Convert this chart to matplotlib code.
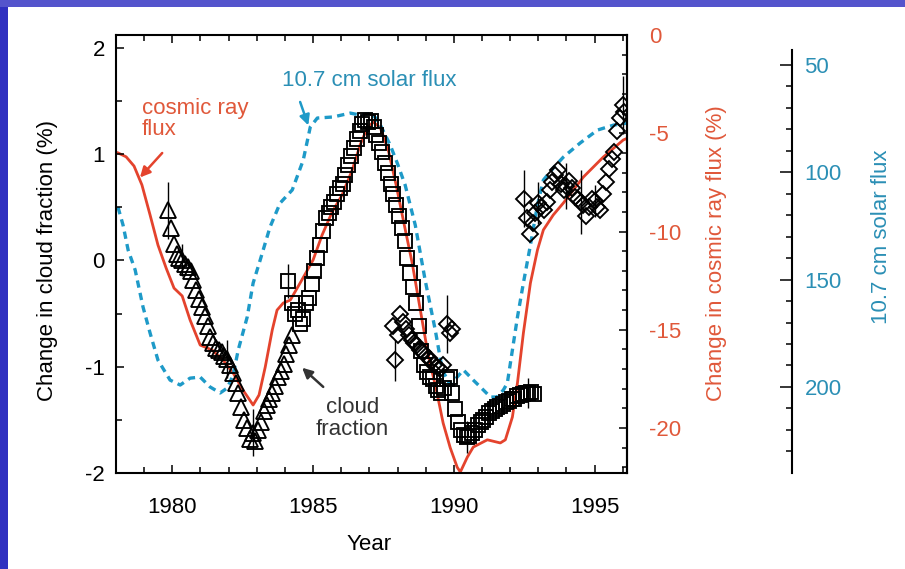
import numpy as np
import matplotlib
matplotlib.use("Agg")
import matplotlib.pyplot as plt
from matplotlib.patches import Rectangle
from matplotlib.ticker import MultipleLocator, FixedLocator

plt.rcParams['font.family'] = ['Liberation Sans', 'DejaVu Sans']
plt.rcParams['axes.unicode_minus'] = False

# cosmic ray flux (% change), red solid line
cr_year = [1978.07, 1978.36, 1978.64, 1978.92, 1979.21, 1979.49, 1979.78, 1980.06, 1980.35,
           1980.63, 1980.99, 1981.41, 1981.80, 1982.16, 1982.51, 1982.87, 1983.08, 1983.30,
           1983.55, 1983.72, 1983.94, 1984.19, 1984.54, 1985.00, 1985.32, 1985.68, 1986.03,
           1986.39, 1986.67, 1986.92, 1987.14, 1987.39, 1987.67, 1987.95, 1988.24, 1988.52,
           1988.81, 1989.09, 1989.38, 1989.62, 1989.87, 1990.12, 1990.23, 1990.48, 1990.69,
           1991.19, 1991.65, 1991.83, 1992.08, 1992.26, 1992.47, 1992.72, 1992.97, 1993.18,
           1993.53, 1993.89, 1994.60, 1995.31, 1996.02, 1996.27]
cr_val = [-6.0, -6.2, -6.67, -7.63, -9.16, -10.69, -11.86, -12.88, -13.28,
          -14.5, -15.78, -16.03, -16.54, -17.2, -18.07, -18.83, -18.32, -16.9,
          -15.01, -14.0, -13.64, -13.49, -12.62, -11.45, -10.18, -9.0, -8.14,
          -6.87, -5.6, -4.73, -4.43, -4.73, -5.85, -7.63, -9.67, -11.6,
          -14.0, -16.3, -18.07, -19.75, -21.0, -22.0, -22.24, -21.48, -20.97,
          -20.6, -20.76, -20.6, -19.44, -17.7, -15.17, -12.62, -10.94, -9.92,
          -9.16, -8.55, -7.23, -6.21, -5.34, -5.19]

# 10.7 cm solar flux, dashed line (inverted axis)
sf_year = [1978.07, 1978.25, 1978.43, 1978.68, 1978.96, 1979.21, 1979.49, 1979.92, 1980.28,
           1980.63, 1980.99, 1981.34, 1981.70, 1981.95, 1982.16, 1982.34, 1982.66, 1982.87,
           1983.12, 1983.47, 1983.83, 1984.26, 1984.65, 1984.90, 1985.15, 1985.71, 1986.32,
           1986.67, 1987.10, 1987.39, 1987.74, 1987.99, 1988.27, 1988.63, 1988.98, 1989.34,
           1989.59, 1989.87, 1990.34, 1990.69, 1990.94, 1991.30, 1991.54, 1991.76, 1991.90,
           1992.08, 1992.26, 1992.47, 1992.72, 1992.97, 1993.18, 1993.53, 1993.89, 1994.49,
           1995.10, 1995.67, 1996.17]
sf_val = [116.2, 124.6, 136.2, 145.5, 162.8, 174.9, 187.5, 196.8, 199.1,
          195.9, 195.4, 200.0, 202.8, 200.5, 194.5, 182.8, 167.4, 151.6,
          140.9, 125.5, 114.3, 108.2, 94.3, 78.9, 74.7, 74.2, 72.4,
          73.3, 72.4, 78.0, 87.3, 95.7, 105.9, 124.6, 150.2, 173.5,
          192.1, 199.1, 192.1, 196.8, 200.0, 204.7, 204.7, 201.4, 198.2,
          182.8, 167.4, 151.6, 133.9, 115.2, 103.6, 98.0, 92.9, 86.3,
          80.3, 78.0, 77.0]

# cloud fraction, triangles
tri_year = [1979.85, 1979.95, 1980.05, 1980.15, 1980.25, 1980.35, 1980.45, 1980.55, 1980.65,
            1980.75, 1980.85, 1980.95, 1981.05, 1981.15, 1981.25, 1981.35, 1981.45, 1981.55,
            1981.65, 1981.75, 1981.85, 1981.95, 1982.05, 1982.15, 1982.25, 1982.35, 1982.45,
            1982.55, 1982.65, 1982.75, 1982.85, 1982.95, 1983.05, 1983.15, 1983.25, 1983.35,
            1983.45, 1983.55, 1983.65, 1983.75, 1983.85, 1983.95, 1984.05, 1984.15, 1984.25]
tri_val = [0.47, 0.30, 0.15, 0.06, 0.02, 0.00, -0.03, -0.06, -0.10,
           -0.18, -0.28, -0.36, -0.44, -0.52, -0.62, -0.72, -0.78, -0.82,
           -0.84, -0.86, -0.90, -0.93, -0.98, -1.06, -1.15, -1.25, -1.38,
           -1.50, -1.58, -1.68, -1.62, -1.70, -1.60, -1.52, -1.42, -1.36,
           -1.30, -1.25, -1.18, -1.10, -1.04, -0.97, -0.88, -0.80, -0.70]

# cloud fraction, squares
sq_year = [1984.10, 1984.25, 1984.35, 1984.45, 1984.55, 1984.65, 1984.75, 1984.85, 1984.95,
           1985.05, 1985.15, 1985.25, 1985.35, 1985.45, 1985.55, 1985.65, 1985.75, 1985.85,
           1985.95, 1986.05, 1986.15, 1986.25, 1986.35, 1986.45, 1986.55, 1986.65, 1986.75,
           1986.85, 1986.95, 1987.05, 1987.15, 1987.25, 1987.35, 1987.45, 1987.55, 1987.65,
           1987.75, 1987.85, 1987.95, 1988.05, 1988.15, 1988.25, 1988.35, 1988.45, 1988.55,
           1988.65, 1988.75, 1988.85, 1988.95, 1989.05, 1989.15, 1989.25, 1989.35, 1989.45,
           1989.55, 1989.65, 1989.75, 1989.85, 1989.95, 1990.05, 1990.15, 1990.25, 1990.35,
           1990.45, 1990.55, 1990.65, 1990.75, 1990.85, 1990.95, 1991.05, 1991.15, 1991.25,
           1991.35, 1991.45, 1991.55, 1991.65, 1991.75, 1991.85, 1991.95, 1992.05, 1992.15,
           1992.25, 1992.35, 1992.45, 1992.55, 1992.65, 1992.75, 1992.85]
sq_val = [-0.19, -0.40, -0.50, -0.47, -0.60, -0.55, -0.40, -0.35, -0.22,
          -0.10, 0.02, 0.14, 0.28, 0.40, 0.45, 0.50, 0.55, 0.62,
          0.68, 0.72, 0.80, 0.90, 0.98, 1.06, 1.14, 1.22, 1.28,
          1.32, 1.30, 1.31, 1.25, 1.18, 1.10, 1.02, 0.92, 0.82,
          0.72, 0.62, 0.52, 0.42, 0.30, 0.18, 0.02, -0.12, -0.25,
          -0.40, -0.62, -0.85, -0.98, -1.05, -1.10, -1.12, -1.18, -1.22,
          -1.25, -1.20, -1.12, -1.10, -1.25, -1.40, -1.52, -1.60, -1.64,
          -1.66, -1.65, -1.62, -1.60, -1.55, -1.52, -1.50, -1.47, -1.44,
          -1.42, -1.40, -1.38, -1.37, -1.35, -1.33, -1.32, -1.30, -1.30,
          -1.28, -1.27, -1.26, -1.25, -1.25, -1.24, -1.26]

# cloud fraction, diamonds
dia_year = [1987.85, 1987.92, 1988.00, 1988.10, 1988.20, 1988.30, 1988.40, 1988.50, 1988.60,
            1988.70, 1988.80, 1988.90, 1989.00, 1989.10, 1989.20, 1989.30, 1989.40, 1989.50,
            1989.60, 1989.75, 1989.85, 1989.95,
            1992.50, 1992.60, 1992.70, 1992.80, 1992.90, 1993.00, 1993.10, 1993.20, 1993.30,
            1993.40, 1993.50, 1993.60, 1993.70, 1993.80, 1993.90, 1994.00, 1994.10, 1994.20,
            1994.30, 1994.40, 1994.50, 1994.60, 1994.70, 1994.80, 1994.90, 1995.00, 1995.10,
            1995.20, 1995.30, 1995.40, 1995.50, 1995.60, 1995.70, 1995.80, 1995.90, 1996.00,
            1996.05]
dia_val = [-0.62, -0.94, -0.70, -0.50, -0.58, -0.65, -0.70, -0.75, -0.78,
           -0.80, -0.84, -0.86, -0.90, -0.92, -0.95, -0.98, -1.00, -1.02,
           -0.98, -0.60, -0.68, -0.65,
           0.58, 0.40, 0.25, 0.35, 0.45, 0.54, 0.50, 0.47, 0.55,
           0.66, 0.74, 0.80, 0.85, 0.72, 0.66, 0.70, 0.75, 0.68,
           0.60, 0.58, 0.55, 0.52, 0.42, 0.50, 0.58, 0.56, 0.50,
           0.47, 0.62, 0.74, 0.86, 0.95, 1.02, 1.22, 1.34, 1.46,
           1.40]

# points that carry a visible error bar
eb_year = [1979.85, 1980.35, 1981.95, 1982.85, 1984.10, 1987.92, 1989.75, 1990.45,
           1992.65, 1992.50, 1993.00, 1994.00, 1994.50, 1995.00, 1996.00]
eb_val = [0.47, 0.00, -0.93, -1.62, -0.19, -0.94, -0.60, -1.66,
          -1.25, 0.58, 0.54, 0.70, 0.55, 0.56, 1.46]
eb_err = [0.27, 0.15, 0.18, 0.22, 0.16, 0.19, 0.27, 0.15,
          0.14, 0.27, 0.20, 0.22, 0.30, 0.15, 0.27]

# solar axis ticks (spine starts just above 50)
sol_major = [50, 100, 150, 200]
sol_minor = [60, 70, 80, 90, 110, 120, 130, 140, 160, 170, 180, 190, 210, 220, 230]

RED = '#e4432d'
RED_TXT = '#e0583a'
TEAL = '#1e9ac8'
TEAL_TXT = '#2b8fb5'
FS = 16

fig = plt.figure(figsize=(9.05, 5.69), dpi=100)
fig.patch.set_facecolor('white')
fig.add_artist(Rectangle((0, 0), 8 / 905, 1, transform=fig.transFigure,
                         facecolor='#3030c0', edgecolor='none', zorder=-10))
fig.add_artist(Rectangle((0, 1 - 7 / 569), 1, 7 / 569, transform=fig.transFigure,
                         facecolor='#5454cc', edgecolor='none', zorder=-10))

ax = fig.add_axes([0.1282, 0.1687, 0.5646, 0.7698])
ax_red = ax.twinx()
ax_sol = ax.twinx()
ax.set_zorder(3)
ax.patch.set_visible(False)

# red and solar lines on their own scales
ax_red.plot(cr_year, cr_val, color=RED, lw=2.0, solid_joinstyle='round')
ax_sol.plot(sf_year, sf_val, color=TEAL, lw=2.4, linestyle=(0, (2.2, 1.6)))

# cloud fraction markers
mk = dict(linestyle='none', markerfacecolor='none', markeredgecolor='black',
          markeredgewidth=1.35)
ax.errorbar(eb_year, eb_val, yerr=eb_err, fmt='none', ecolor='black',
            elinewidth=1.0, capsize=0)
ax.plot(tri_year, tri_val, marker='^', markersize=11, **mk)
ax.plot(sq_year, sq_val, marker='s', markersize=10, **mk)
ax.plot(dia_year, dia_val, marker='D', markersize=8, **mk)

# main axis
ax.set_xlim(1978.0, 1996.15)
ax.set_ylim(-2, 2.12)
ax.xaxis.set_major_locator(MultipleLocator(5))
ax.xaxis.set_minor_locator(MultipleLocator(1))
ax.yaxis.set_major_locator(MultipleLocator(1))
ax.yaxis.set_minor_locator(MultipleLocator(0.5))
ax.tick_params(which='both', direction='in', top=True, right=False, width=1.1,
               labelsize=FS)
ax.tick_params(which='major', length=5.5)
ax.tick_params(which='minor', length=4)
ax.tick_params(axis='x', pad=17)
ax.tick_params(axis='y', pad=8)
for s in ax.spines.values():
    s.set_linewidth(1.5)
ax.set_xlabel('Year', fontsize=FS, va='center')
ax.xaxis.set_label_coords(0.495, -0.164)
ax.set_ylabel('Change in cloud fraction (%)', fontsize=FS, va='center')
ax.yaxis.set_label_coords(-0.134, 0.486)

# red axis
ax_red.set_ylim(-22.29, 0)
ax_red.yaxis.set_major_locator(MultipleLocator(5))
ax_red.yaxis.set_minor_locator(MultipleLocator(1))
ax_red.tick_params(axis='y', which='both', direction='in', width=1.1,
                   labelsize=FS, labelcolor=RED_TXT, pad=16)
ax_red.tick_params(axis='y', which='major', length=6)
ax_red.tick_params(axis='y', which='minor', length=3.5)
for side in ['top', 'bottom', 'left']:
    ax_red.spines[side].set_visible(False)
ax_red.spines['right'].set_linewidth(1.5)
ax_red.set_ylabel('Change in cosmic ray flux (%)', fontsize=FS, color=RED_TXT, va='center')
ax_red.yaxis.set_label_coords(1.176, 0.502)

# solar flux axis
ax_sol.set_ylim(240.1, 36.0)
ax_sol.yaxis.set_major_locator(FixedLocator(sol_major))
ax_sol.yaxis.set_minor_locator(FixedLocator(sol_minor))
ax_sol.spines['right'].set_position(('axes', 1.3229))
ax_sol.spines['right'].set_bounds(43, 240.1)
ax_sol.spines['right'].set_linewidth(1.5)
for side in ['top', 'bottom', 'left']:
    ax_sol.spines[side].set_visible(False)
ax_sol.tick_params(axis='y', which='both', direction='in', width=1.1,
                   labelsize=FS, labelcolor=TEAL_TXT, pad=9)
ax_sol.tick_params(axis='y', which='major', length=8.5)
ax_sol.tick_params(axis='y', which='minor', length=4.3)
ax_sol.set_ylabel('10.7 cm solar flux', fontsize=FS, color=TEAL_TXT, va='center')
ax_sol.yaxis.set_label_coords(1.499, 0.539)

# annotations
ax.text(1978.92, 1.33, 'cosmic ray\nflux', color=RED_TXT, fontsize=FS,
        ha='left', va='center', linespacing=1.05)
ax.annotate('', xy=(1978.85, 0.78), xytext=(1979.64, 1.01),
            arrowprops=dict(arrowstyle='-|>', color=RED, lw=1.8, mutation_scale=15,
                            shrinkA=0, shrinkB=0))
ax.text(1983.9, 1.69, '10.7 cm solar flux', color=TEAL_TXT, fontsize=FS,
        ha='left', va='center')
ax.annotate('', xy=(1984.83, 1.27), xytext=(1984.54, 1.49),
            arrowprops=dict(arrowstyle='-|>', color=TEAL, lw=1.8, mutation_scale=15,
                            shrinkA=0, shrinkB=0))
ax.text(1986.39, -1.49, 'cloud\nfraction', color='#333333', fontsize=FS,
        ha='center', va='center', linespacing=1.05)
ax.annotate('', xy=(1984.61, -1.01), xytext=(1985.36, -1.19),
            arrowprops=dict(arrowstyle='-|>', color='#333333', lw=1.8, mutation_scale=15,
                            shrinkA=0, shrinkB=0))

fig.savefig('out.png', dpi=100)
